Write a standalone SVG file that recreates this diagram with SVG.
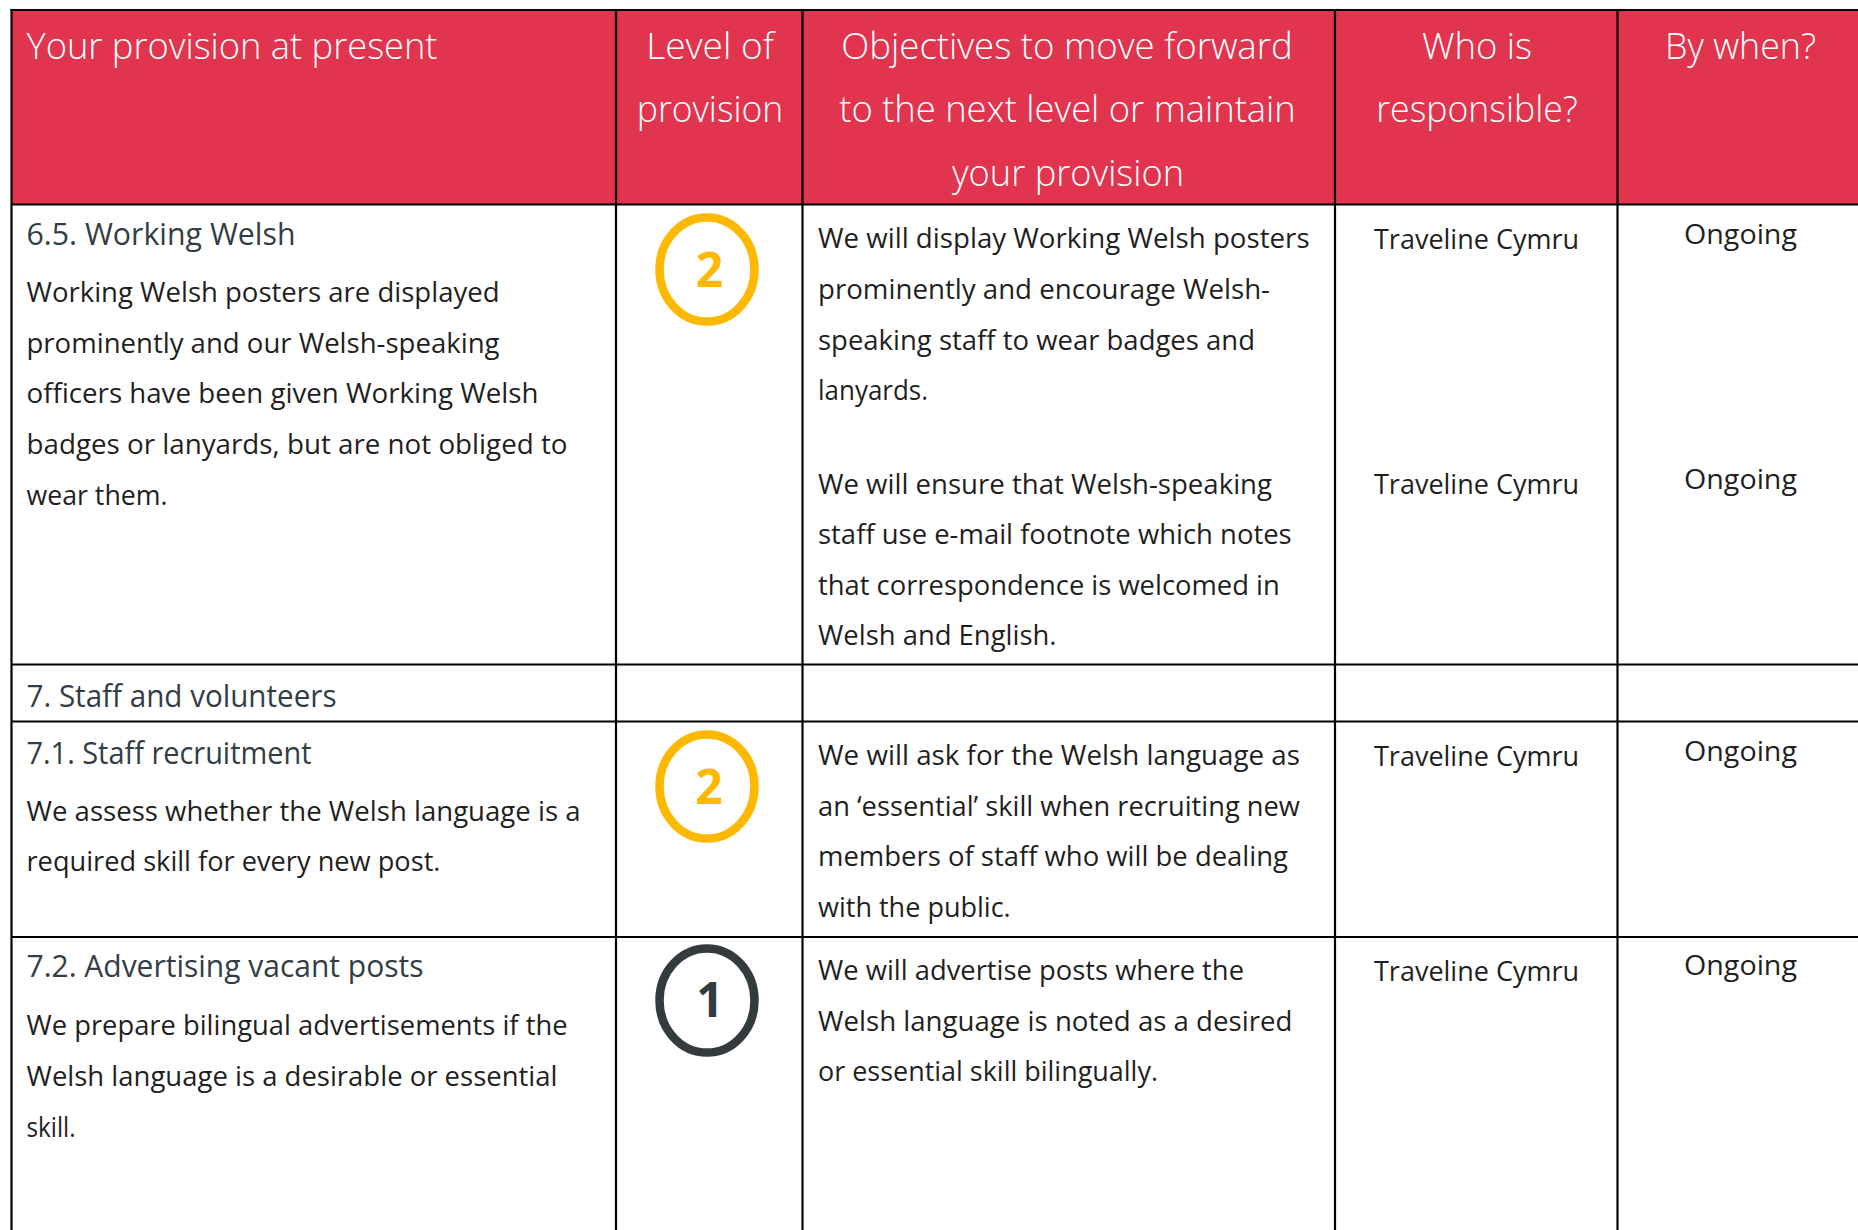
<svg xmlns="http://www.w3.org/2000/svg" width="1858" height="1230" viewBox="0 0 1858 1230">
<style>
text{font-family:"Open Sans","Noto Sans","Liberation Sans",sans-serif}
.h{font-size:36.5px;fill:#ffffff;font-weight:300}
.t{font-size:27px;fill:#1f1f1f;font-weight:400}
.s{font-size:31px;fill:#333d45;font-weight:500}
.c{text-anchor:middle}
.g{stroke:#000;stroke-width:2.2;fill:none}
.lv2{fill:none;stroke:#FFB800;stroke-width:8.5}
.lv1{fill:none;stroke:#333b3f;stroke-width:8.5}
.n2{font-size:48px;font-weight:700;fill:#FFB800;text-anchor:middle}
.n1{font-size:48px;font-weight:700;fill:#333b3f;text-anchor:middle}
</style>
<rect x="0" y="0" width="1858" height="1230" fill="#ffffff"/>
<g id="header">
<rect x="11.5" y="10" width="1846.5" height="194.5" fill="#E0344F"/>
<text class="h" x="26.5" y="59" textLength="411" lengthAdjust="spacingAndGlyphs">Your provision at present</text>
<text class="h c" x="710" y="59" textLength="127.5" lengthAdjust="spacingAndGlyphs">Level of</text>
<text class="h c" x="710" y="122" textLength="146.5" lengthAdjust="spacingAndGlyphs">provision</text>
<text class="h c" x="1067" y="59" textLength="451.5" lengthAdjust="spacingAndGlyphs">Objectives to move forward</text>
<text class="h c" x="1067.5" y="122" textLength="456.5" lengthAdjust="spacingAndGlyphs">to the next level or maintain</text>
<text class="h c" x="1068" y="185.5" textLength="232" lengthAdjust="spacingAndGlyphs">your provision</text>
<text class="h c" x="1477" y="59" textLength="110" lengthAdjust="spacingAndGlyphs">Who is</text>
<text class="h c" x="1477" y="122" textLength="201.5" lengthAdjust="spacingAndGlyphs">responsible?</text>
<text class="h c" x="1740.5" y="59" textLength="151" lengthAdjust="spacingAndGlyphs">By when?</text>
</g>
<g id="row-6-5">
<text class="s" x="26.5" y="245" textLength="269" lengthAdjust="spacingAndGlyphs">6.5. Working Welsh</text>
<text class="t" x="26.5" y="302" textLength="473" lengthAdjust="spacingAndGlyphs">Working Welsh posters are displayed</text>
<text class="t" x="26.5" y="353" textLength="473" lengthAdjust="spacingAndGlyphs">prominently and our Welsh-speaking</text>
<text class="t" x="26.5" y="403" textLength="512" lengthAdjust="spacingAndGlyphs">officers have been given Working Welsh</text>
<text class="t" x="26.5" y="454" textLength="541" lengthAdjust="spacingAndGlyphs">badges or lanyards, but are not obliged to</text>
<text class="t" x="26.5" y="505" textLength="141" lengthAdjust="spacingAndGlyphs">wear them.</text>
<ellipse class="lv2" cx="707" cy="269.5" rx="47.5" ry="52"/>
<text class="n2" x="709.5" y="287">2</text>
<text class="t" x="818" y="248" textLength="491.6" lengthAdjust="spacingAndGlyphs">We will display Working Welsh posters</text>
<text class="t" x="818" y="299" textLength="452" lengthAdjust="spacingAndGlyphs">prominently and encourage Welsh-</text>
<text class="t" x="818" y="349.5" textLength="437" lengthAdjust="spacingAndGlyphs">speaking staff to wear badges and</text>
<text class="t" x="818" y="400" textLength="110" lengthAdjust="spacingAndGlyphs">lanyards.</text>
<text class="t" x="818" y="493.5" textLength="454" lengthAdjust="spacingAndGlyphs">We will ensure that Welsh-speaking</text>
<text class="t" x="818" y="544" textLength="473.7" lengthAdjust="spacingAndGlyphs">staff use e-mail footnote which notes</text>
<text class="t" x="818" y="594.5" textLength="461.7" lengthAdjust="spacingAndGlyphs">that correspondence is welcomed in</text>
<text class="t" x="818" y="645" textLength="238.5" lengthAdjust="spacingAndGlyphs">Welsh and English.</text>
<text class="t c" x="1476.5" y="248.5" textLength="205" lengthAdjust="spacingAndGlyphs">Traveline Cymru</text>
<text class="t c" x="1740.5" y="243.5" textLength="113" lengthAdjust="spacingAndGlyphs">Ongoing</text>
<text class="t c" x="1476.5" y="493.5" textLength="205" lengthAdjust="spacingAndGlyphs">Traveline Cymru</text>
<text class="t c" x="1740.5" y="488.5" textLength="113" lengthAdjust="spacingAndGlyphs">Ongoing</text>
</g>
<g id="row-7">
<text class="s" x="26.5" y="706.5" textLength="310" lengthAdjust="spacingAndGlyphs">7. Staff and volunteers</text>
</g>
<g id="row-7-1">
<text class="s" x="26.5" y="763.5" textLength="285" lengthAdjust="spacingAndGlyphs">7.1. Staff recruitment</text>
<text class="t" x="26.5" y="820.5" textLength="554" lengthAdjust="spacingAndGlyphs">We assess whether the Welsh language is a</text>
<text class="t" x="26.5" y="870.5" textLength="414" lengthAdjust="spacingAndGlyphs">required skill for every new post.</text>
<ellipse class="lv2" cx="707" cy="786.5" rx="47.5" ry="52"/>
<text class="n2" x="709" y="804">2</text>
<text class="t" x="818" y="765" textLength="482" lengthAdjust="spacingAndGlyphs">We will ask for the Welsh language as</text>
<text class="t" x="818" y="815.5" textLength="482" lengthAdjust="spacingAndGlyphs">an ‘essential’ skill when recruiting new</text>
<text class="t" x="818" y="866" textLength="470" lengthAdjust="spacingAndGlyphs">members of staff who will be dealing</text>
<text class="t" x="818" y="916.5" textLength="192.7" lengthAdjust="spacingAndGlyphs">with the public.</text>
<text class="t c" x="1476.5" y="766" textLength="205" lengthAdjust="spacingAndGlyphs">Traveline Cymru</text>
<text class="t c" x="1740.5" y="760.5" textLength="113" lengthAdjust="spacingAndGlyphs">Ongoing</text>
</g>
<g id="row-7-2">
<text class="s" x="26.5" y="977" textLength="397" lengthAdjust="spacingAndGlyphs">7.2. Advertising vacant posts</text>
<text class="t" x="26.5" y="1035" textLength="541" lengthAdjust="spacingAndGlyphs">We prepare bilingual advertisements if the</text>
<text class="t" x="26.5" y="1085.5" textLength="531" lengthAdjust="spacingAndGlyphs">Welsh language is a desirable or essential</text>
<text class="t" x="26.5" y="1137" textLength="49" lengthAdjust="spacingAndGlyphs">skill.</text>
<ellipse class="lv1" cx="707" cy="1000.5" rx="47.5" ry="52"/>
<text class="n1" x="710" y="1017">1</text>
<text class="t" x="818" y="980" textLength="426" lengthAdjust="spacingAndGlyphs">We will advertise posts where the</text>
<text class="t" x="818" y="1030.5" textLength="474.4" lengthAdjust="spacingAndGlyphs">Welsh language is noted as a desired</text>
<text class="t" x="818" y="1081" textLength="340" lengthAdjust="spacingAndGlyphs">or essential skill bilingually.</text>
<text class="t c" x="1476.5" y="980.5" textLength="205" lengthAdjust="spacingAndGlyphs">Traveline Cymru</text>
<text class="t c" x="1740.5" y="975" textLength="113" lengthAdjust="spacingAndGlyphs">Ongoing</text>
</g>
<g id="grid">
<line class="g" x1="10.5" y1="10" x2="1858" y2="10" stroke-width="3"/>
<line class="g" x1="11.5" y1="9" x2="11.5" y2="1230" stroke-width="3"/>
<line class="g" x1="616" y1="10" x2="616" y2="1230"/>
<line class="g" x1="802.5" y1="10" x2="802.5" y2="1230"/>
<line class="g" x1="1335" y1="10" x2="1335" y2="1230"/>
<line class="g" x1="1617.5" y1="10" x2="1617.5" y2="1230"/>
<line class="g" x1="11.5" y1="204.5" x2="1858" y2="204.5" stroke-width="3"/>
<line class="g" x1="11.5" y1="664.5" x2="1858" y2="664.5"/>
<line class="g" x1="11.5" y1="721.5" x2="1858" y2="721.5"/>
<line class="g" x1="11.5" y1="937" x2="1858" y2="937"/>
</g>
</svg>
